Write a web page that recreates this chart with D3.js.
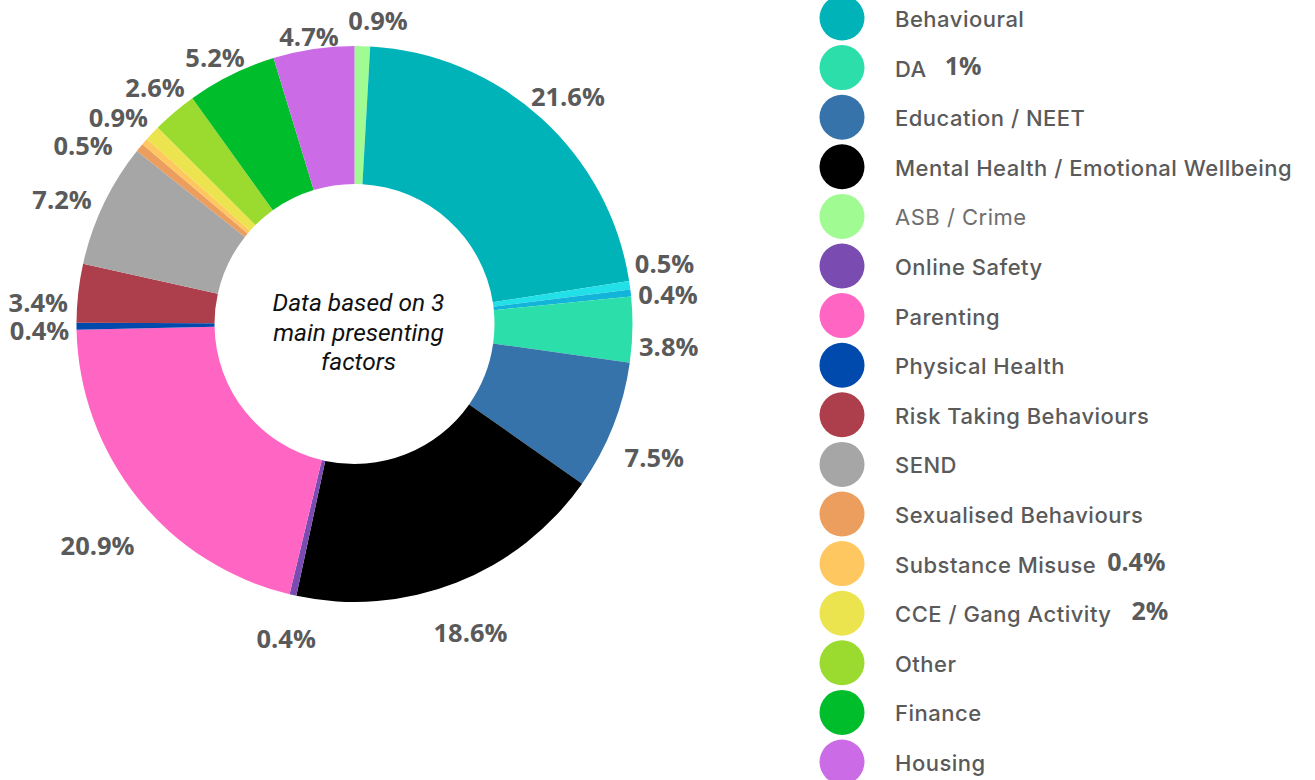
<!DOCTYPE html>
<html>
<head>
<meta charset="utf-8">
<script src="https://cdnjs.cloudflare.com/ajax/libs/d3/7.8.5/d3.min.js"></script>
<style>
  html, body { margin: 0; padding: 0; background: #ffffff; }
  svg { display: block; }
</style>
</head>
<body>
<div id="chart"></div>
<script>
// Slices in drawing order, clockwise from 12 o'clock
const sliceNames = [
    "ASB / Crime", "Behavioural", "Unlabelled A", "Unlabelled B", "DA",
    "Education / NEET", "Mental Health / Emotional Wellbeing", "Online Safety",
    "Parenting", "Physical Health", "Risk Taking Behaviours", "SEND",
    "Sexualised Behaviours", "Substance Misuse", "CCE / Gang Activity",
    "Other", "Finance", "Housing"
];
const sliceValues = [0.9, 21.6, 0.5, 0.4, 3.8, 7.5, 18.6, 0.4, 20.9, 0.4, 3.4, 7.2, 0.5, 0.4, 0.9, 2.6, 5.2, 4.7];
const sliceLabels = ["0.9%", "21.6%", "0.5%", "0.4%", "3.8%", "7.5%", "18.6%", "0.4%", "20.9%", "0.4%", "3.4%", "7.2%", "0.5%", "", "0.9%", "2.6%", "5.2%", "4.7%"];
const sliceColors = [
    "#a0fb92", "#00b3b8", "#22e0e8", "#12b5d9", "#2cdfaa",
    "#3573aa", "#000000", "#7a4bb0", "#ff66c4", "#004aad",
    "#ad3f4c", "#a6a6a6", "#eb9e5e", "#ffc75f", "#ece44f",
    "#9bda2f", "#00bd2c", "#cb6ce6"
];

// Legend entries (top to bottom) and the notes printed beside some of them
const legendNames = [
    "Behavioural", "DA", "Education / NEET", "Mental Health / Emotional Wellbeing",
    "ASB / Crime", "Online Safety", "Parenting", "Physical Health",
    "Risk Taking Behaviours", "SEND", "Sexualised Behaviours", "Substance Misuse",
    "CCE / Gang Activity", "Other", "Finance", "Housing"
];
const legendNotes = { "DA": "1%", "Substance Misuse": "0.4%", "CCE / Gang Activity": "2%" };

const centerLines = ["Data based on 3", "main presenting", "factors"];

// Hand placement of the outside labels: [angle shift in degrees, distance from centre]
const labelPlacement = [
    [2.8, 305], [1.0, 312], [-3.1, 316], [0.9, 315], [2.8, 315], [2.4, 328],
    [0.8, 329], [-0.5, 321], [-1.9, 339], [-0.65, 315], [-2.4, 317], [-2.4, 318],
    [-6.0, 325], [0, 320], [-2.1, 314], [0.3, 310], [-1.3, 301], [-0.5, 292]
];
// gap between a legend label and its note
const noteGap = { "DA": 18, "Substance Misuse": 11, "CCE / Gang Activity": 20 };

const width = 1315, height = 780;
const cx = 354.5, cy = 324, outerR = 278, innerR = 140;
const textGrey = "#5a5a5a";

const svg = d3.select("#chart").append("svg")
    .attr("width", width)
    .attr("height", height);

const data = sliceNames.map((name, i) => ({
    name, value: sliceValues[i], label: sliceLabels[i], color: sliceColors[i], idx: i
}));

const pie = d3.pie().value(d => d.value).sort(null);
const arc = d3.arc().innerRadius(innerR).outerRadius(outerR);
const arcs = pie(data);

const donut = svg.append("g")
    .attr("class", "donut")
    .attr("transform", `translate(${cx},${cy})`);

donut.selectAll("path.slice")
    .data(arcs)
    .join("path")
    .attr("class", "slice")
    .attr("d", arc)
    .attr("fill", d => d.data.color);

// Percentage labels outside the ring
const labelAngle = d => (d.startAngle + d.endAngle) / 2 + labelPlacement[d.data.idx][0] * Math.PI / 180;

donut.selectAll("text.pct")
    .data(arcs.filter(d => d.data.label))
    .join("text")
    .attr("class", "pct")
    .attr("x", d => labelPlacement[d.data.idx][1] * Math.sin(labelAngle(d)))
    .attr("y", d => -labelPlacement[d.data.idx][1] * Math.cos(labelAngle(d)))
    .attr("text-anchor", "middle")
    .attr("dominant-baseline", "central")
    .attr("font-family", "Open Sans")
    .attr("font-weight", 700)
    .attr("font-size", 25.5)
    .attr("fill", textGrey)
    .text(d => d.data.label);

// Centre caption
donut.append("g")
    .selectAll("text")
    .data(centerLines)
    .join("text")
    .attr("x", 4)
    .attr("y", (d, i) => (i - 1) * 29.5 + 8)
    .attr("text-anchor", "middle")
    .attr("dominant-baseline", "central")
    .attr("font-family", "Roboto")
    .attr("font-style", "italic")
    .attr("font-size", 24.5)
    .attr("fill", "#111111")
    .text(d => d);

// Legend
const colorOf = d3.scaleOrdinal().domain(sliceNames).range(sliceColors);
const legendY = d3.scalePoint().domain(legendNames).range([18, 762]);

const legend = svg.append("g").attr("class", "legend");
const rows = legend.selectAll("g.row")
    .data(legendNames)
    .join("g")
    .attr("class", "row")
    .attr("transform", d => `translate(842,${legendY(d)})`);

rows.append("circle")
    .attr("r", 22.5)
    .attr("fill", d => colorOf(d));

rows.append("text")
    .attr("class", "name")
    .attr("x", 53)
    .attr("y", 1)
    .attr("dominant-baseline", "central")
    .attr("font-family", "Inter")
    .attr("font-weight", d => d === "ASB / Crime" ? 400 : 500)
    .attr("font-size", 22)
    .attr("letter-spacing", 0.5)
    .attr("fill", d => d === "ASB / Crime" ? "#6e6e6e" : textGrey)
    .text(d => d);

rows.filter(d => legendNotes[d])
    .append("text")
    .attr("x", function (d) {
        const label = d3.select(this.parentNode).select("text.name").node();
        return 53 + label.getBBox().width + noteGap[d];
    })
    .attr("y", -3)
    .attr("dominant-baseline", "central")
    .attr("font-family", "Open Sans")
    .attr("font-weight", 700)
    .attr("font-size", 25)
    .attr("fill", textGrey)
    .text(d => legendNotes[d]);
</script>
</body>
</html>
